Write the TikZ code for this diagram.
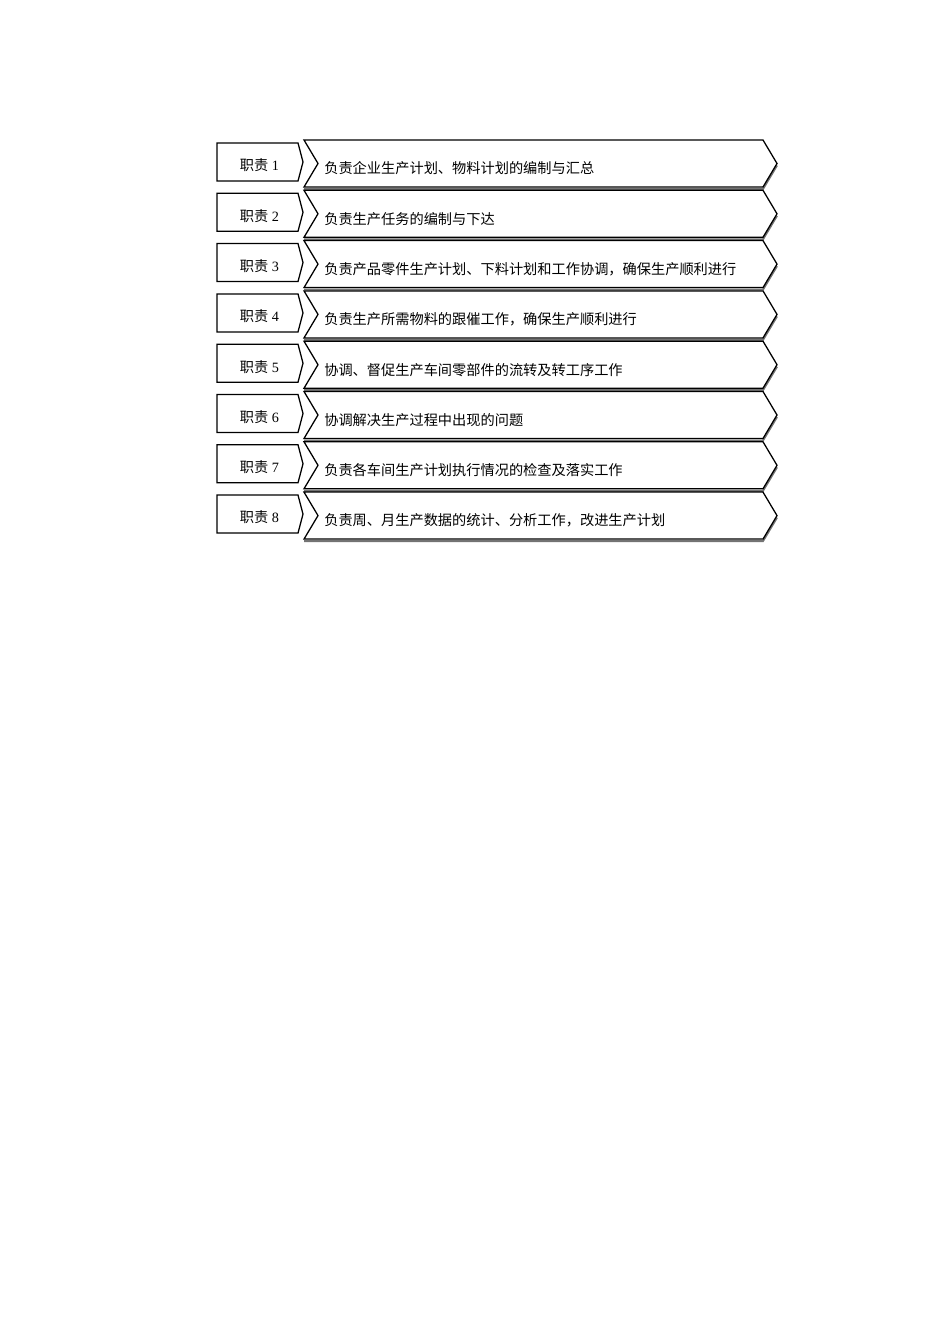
\documentclass[tikz,border=0pt]{standalone}
\usepackage{fontspec}
\setmainfont{Liberation Serif}
\newfontfamily\cjk{Noto Sans CJK SC}
\begin{document}
\begin{tikzpicture}[x=0.6264pt,y=-0.6264pt,
  tagbox/.style={draw=black,line width=0.8pt,fill=white,line join=miter},
  chev/.style={draw=black,line width=0.8pt,fill=white,line join=miter},
  chevshadow/.style={draw=black!55,line width=1.2pt},
  lbl/.style={font=\fontsize{8.9pt}{10pt}\selectfont,inner sep=0pt},
  txt/.style={font=\fontsize{8.9pt}{10pt}\selectfont\cjk,inner sep=0pt,anchor=west}]
\useasboundingbox (0,0) rectangle (950,1344);
\foreach \i/\t in {1/负责企业生产计划、物料计划的编制与汇总,
                   2/负责生产任务的编制与下达,
                   3/负责产品零件生产计划、下料计划和工作协调，确保生产顺利进行,
                   4/负责生产所需物料的跟催工作，确保生产顺利进行,
                   5/协调、督促生产车间零部件的流转及转工序工作,
                   6/协调解决生产过程中出现的问题,
                   7/负责各车间生产计划执行情况的检查及落实工作,
                   8/负责周、月生产数据的统计、分析工作，改进生产计划}{
  \pgfmathsetmacro{\dy}{(\i-1)*50.3}
  \begin{scope}[yshift=-\dy*0.6264pt]
    \draw[tagbox] (217,143) -- (298,143) -- (303,162) -- (298,181) -- (217,181) -- cycle;
    \draw[chevshadow] (304,189) -- (763,189) -- (777,165.5);
    \draw[chev] (304,140) -- (763,140) -- (777,163.5) -- (763,187) -- (304,187) -- (318,163.5) -- cycle;
    \node[lbl] (l\i) at (259.5,165.5) {{\cjk 职责} \i};
    \node[txt] (c\i) at (324,168.5) {\t};
  \end{scope}
}
\end{tikzpicture}
\end{document}
